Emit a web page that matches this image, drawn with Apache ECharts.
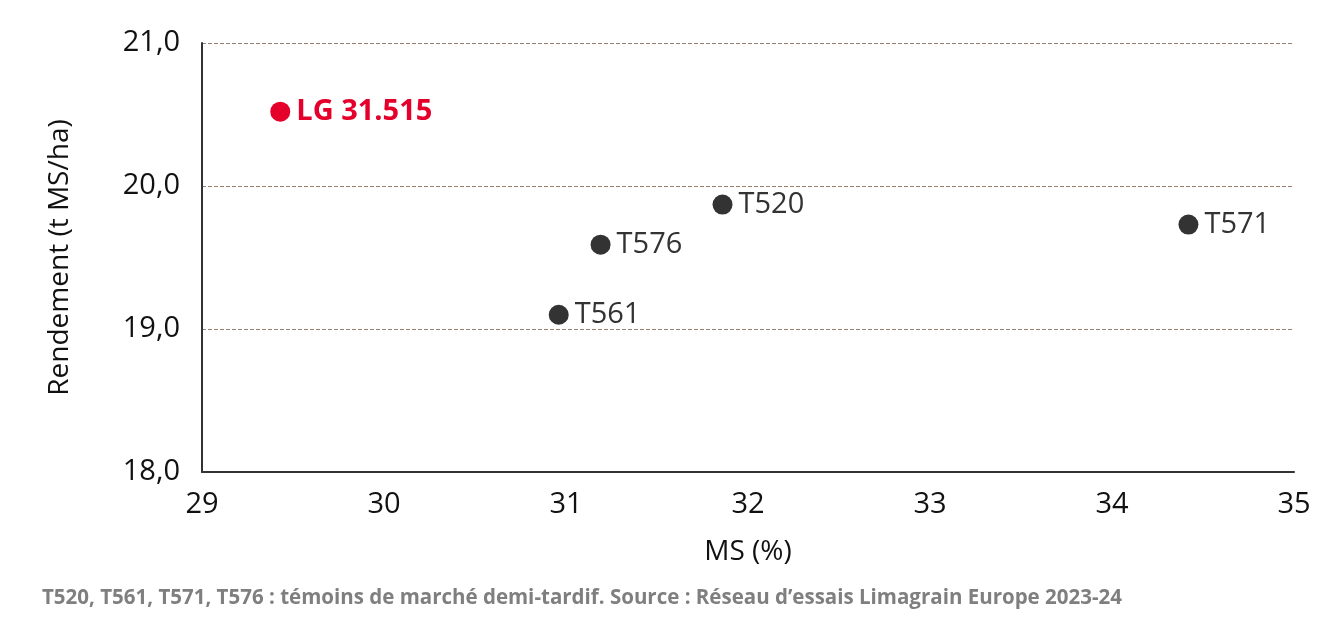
<!DOCTYPE html><html><head><meta charset="utf-8">
<script src="https://cdn.jsdelivr.net/npm/echarts@6/dist/echarts.min.js"></script>
<style>html,body{margin:0;background:#fff}#c{width:1319px;height:631px}</style></head><body><div id="c"></div>
<script>
const names=['LG 31.515','T520','T576','T561','T571'];
const ms=[29.43,31.86,31.19,30.96,34.42];
const rdt=[20.52,19.87,19.59,19.10,19.73];
const colors=['#e4002b','#333333','#333333','#333333','#333333'];
const xTicks=[29,30,31,32,33,34,35];
const yTicks=[18,19,20,21];
const F='"Open Sans", "Liberation Sans", sans-serif';
const ch=echarts.init(document.getElementById('c'));
ch.setOption({
 animation:false,
 grid:{left:202,right:25,top:43,bottom:159},
 xAxis:{type:'value',min:xTicks[0],max:xTicks[xTicks.length-1],interval:1,
  name:'MS (%)',nameLocation:'middle',nameGap:66,nameTextStyle:{fontSize:28,color:'#111',fontFamily:F},
  axisLine:{lineStyle:{color:'#333',width:2}},axisTick:{show:false},splitLine:{show:false},
  axisLabel:{fontSize:29,color:'#111',fontFamily:F,margin:18}},
 yAxis:{type:'value',min:yTicks[0],max:yTicks[yTicks.length-1],interval:1,
  name:'Rendement (t MS/ha)',nameLocation:'middle',nameGap:128,nameTextStyle:{fontSize:28,color:'#111',fontFamily:F},
  axisLine:{show:true,lineStyle:{color:'#333',width:2}},axisTick:{show:false},
  splitLine:{lineStyle:{type:'dashed',color:'#9a8070',width:1}},
  axisLabel:{fontSize:29,color:'#111',fontFamily:F,margin:22,formatter:v=>v.toFixed(1).replace('.',',')}},
 series:[{type:'scatter',symbolSize:20,
  data:names.map((n,i)=>({value:[ms[i],rdt[i]],name:n,itemStyle:{color:colors[i],opacity:1},
   label:{show:true,position:'right',distance:6,formatter:n,fontFamily:F,
    fontSize:i===0?29:29,fontWeight:i===0?'bold':'normal',color:i===0?'#e4002b':'#333'}}))}],
 graphic:[{type:'text',left:42,top:588,style:{text:'T520, T561, T571, T576 : témoins de marché demi-tardif. Source : Réseau d’essais Limagrain Europe 2023-24',
  font:'bold 20.5px '+F,fill:'#7f7f7f'}}]
});
</script></body></html>
